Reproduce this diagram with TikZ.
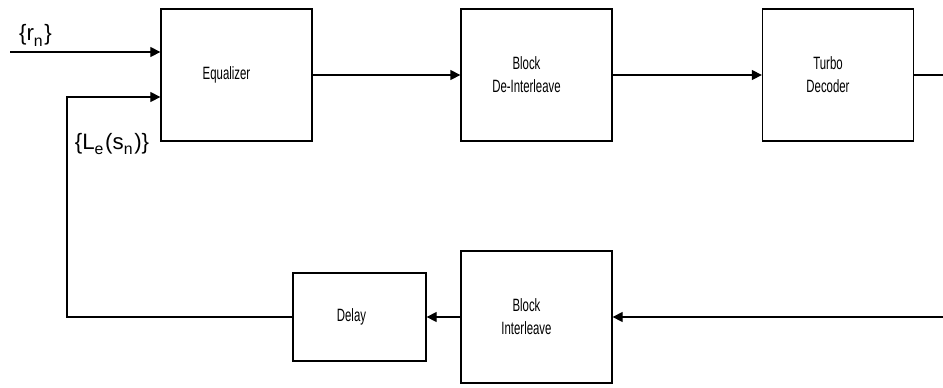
\documentclass[tikz,border=0pt]{standalone}
\usepackage{fontspec}
\setmainfont{Liberation Sans}
\newfontfamily\boxfont[FakeStretch=0.64]{Liberation Sans}
\usetikzlibrary{arrows.meta}

\newcommand\lowsub[1]{\raisebox{-0.5ex}{\fontsize{13.5}{13.5}\selectfont #1}\kern1.5pt}

\tikzset{
  blockbox/.style={draw, minimum width=4.53cm, minimum height=3.96cm, inner sep=0pt},
  boxtext/.style={xshift=-0.3cm, align=center, font=\boxfont\fontsize{15.2}{19.6}\selectfont},
  sig/.style={font=\fontsize{19}{20}\selectfont, inner sep=0pt}
}

\begin{document}
\begin{tikzpicture}[x=0.03cm, y=-0.03cm, line width=1.1pt, >={Triangle[length=0.3cm, width=0.3cm]}]

\useasboundingbox (0,0) rectangle (943,387);

% forward path
\node[blockbox, label={[boxtext]center:Equalizer}] (eq) at (236.5,75) {};
\node[blockbox, label={[boxtext]center:Block\\De-Interleave}] (deint) at (536.5,75) {};
\node[blockbox, label={[boxtext]center:Turbo\\Decoder}] (turbo) at (838,75) {};

% feedback path
\node[blockbox, label={[boxtext]center:Block\\Interleave}] (intl) at (536.5,317) {};
\node[blockbox, minimum width=3.99cm, minimum height=2.64cm, label={[boxtext, xshift=0.06cm]center:Delay}] (delay) at (359.5,317) {};

\coordinate (rin) at (10,52);
\coordinate (corner) at (67,317);
\coordinate (fbtop) at (67,97);
\coordinate (outr) at (943,75);
\coordinate (inr) at (943,317);

\node[sig] (rlabel) at (35.5,35) {\{r\lowsub{n}\}};
\node[sig] (llabel) at (112,144) {\{L\lowsub{e}(s\lowsub{n})\}};

\draw[->] (rin) -- (rin -| eq.west);
\draw[->] (delay.west) -- (corner) -- (fbtop) -- (fbtop -| eq.west);
\draw[->] (eq.east) -- (deint.west);
\draw[->] (deint.east) -- (turbo.west);
\draw (turbo.east) -- (outr);
\draw[->] (inr) -- (intl.east);
\draw[->] (intl.west) -- (delay.east);
\end{tikzpicture}
\end{document}
